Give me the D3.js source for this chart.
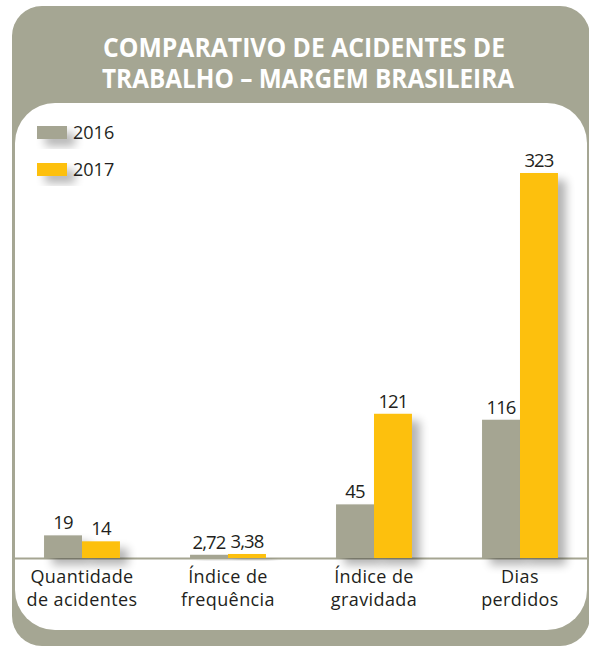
<!DOCTYPE html>
<html lang="pt">
<head>
<meta charset="utf-8">
<title>Comparativo de acidentes de trabalho</title>
<script src="https://d3js.org/d3.v7.min.js"></script>
<style>
    body { margin: 0; background: #ffffff; }
    svg text { font-family: "Open Sans", "Lato", sans-serif; }
    .title { fill: #ffffff; font-weight: 700; font-size: 26px; }
    .val { fill: #231f20; font-size: 18.5px; letter-spacing: -0.9px; }
    .cat { fill: #231f20; font-size: 18px; letter-spacing: 0.4px; }
    .leg { fill: #231f20; font-size: 18px; }
</style>
</head>
<body>
<svg id="chart" width="589" height="646"></svg>
<script>
// categories (two lines each) and the two series
var categories = ["Quantidade de acidentes", "Índice de frequência", "Índice de gravidade", "Dias perdidos"];
var catLines = [["Quantidade", "de acidentes"], ["Índice de", "frequência"], ["Índice de", "gravidada"], ["Dias", "perdidos"]];
var series = ["2016", "2017"];
var values2016 = [19, 2.72, 45, 116];
var values2017 = [14, 3.38, 121, 323];
var labels2016 = ["19", "2,72", "45", "116"];
var labels2017 = ["14", "3,38", "121", "323"];
var titleLines = ["COMPARATIVO DE ACIDENTES DE", "TRABALHO – MARGEM BRASILEIRA"];
var titleWidths = [402, 412];

var colors = {"2016": "#a5a592", "2017": "#fdc010"};

var svg = d3.select("#chart");

// soft shadow down/right
var defs = svg.append("defs");
var f = defs.append("filter").attr("id", "shadow")
    .attr("x", "-50%").attr("y", "-50%").attr("width", "220%").attr("height", "220%");
f.append("feGaussianBlur").attr("in", "SourceAlpha").attr("stdDeviation", 5).attr("result", "b");
f.append("feOffset").attr("in", "b").attr("dx", 8).attr("dy", 7).attr("result", "o");
f.append("feComponentTransfer").attr("in", "o").attr("result", "s")
  .append("feFuncA").attr("type", "linear").attr("slope", 0.3);
var m = f.append("feMerge");
m.append("feMergeNode").attr("in", "s");
m.append("feMergeNode").attr("in", "SourceGraphic");

// outer panel
svg.append("rect")
    .attr("x", 12).attr("y", 6).attr("width", 578).attr("height", 640)
    .attr("rx", 30).attr("fill", "#a5a693");

// title: one text, two lines, squeezed to the narrow face of the original
svg.append("text")
    .attr("class", "title")
    .attr("text-anchor", "middle")
  .selectAll("tspan").data(titleLines).join("tspan")
    .attr("x", function(d, i) { return i ? 308 : 304; })
    .attr("y", function(d, i) { return 57 + i * 31; })
    .attr("textLength", function(d, i) { return titleWidths[i]; })
    .attr("lengthAdjust", "spacingAndGlyphs")
    .text(function(d) { return d; });

// inner white panel
svg.append("rect")
    .attr("x", 15).attr("y", 103).attr("width", 572).attr("height", 527)
    .attr("rx", 40).attr("fill", "#ffffff");

var baseline = 558;
var x0 = d3.scaleBand().domain(categories).range([9, 593]).paddingInner(0.48).paddingOuter(0.24);
var x1 = d3.scaleBand().domain(series).range([0, x0.bandwidth()]);
var y = d3.scaleLinear().domain([0, 323]).range([baseline, 173]);

var data = categories.map(function(c, i) {
    return [
        {cat: c, key: "2016", v: values2016[i], lab: labels2016[i]},
        {cat: c, key: "2017", v: values2017[i], lab: labels2017[i]}
    ];
});

// axis line
svg.append("line")
    .attr("x1", 15).attr("x2", 587)
    .attr("y1", baseline + 0.5).attr("y2", baseline + 0.5)
    .attr("stroke", "#a5a592").attr("stroke-width", 2);

var groups = svg.selectAll("g.grp").data(data).join("g")
    .attr("class", "grp")
    .attr("transform", function(d) { return "translate(" + x0(d[0].cat) + ",0)"; });

groups.selectAll("rect").data(function(d) { return d; }).join("rect")
    .attr("x", function(d) { return x1(d.key); })
    .attr("y", function(d) { return y(d.v); })
    .attr("width", x1.bandwidth())
    .attr("height", function(d) { return baseline - y(d.v); })
    .attr("fill", function(d) { return colors[d.key]; })
    .attr("filter", "url(#shadow)");

groups.selectAll("text.val").data(function(d) { return d; }).join("text")
    .attr("class", "val")
    .attr("x", function(d) { return x1(d.key) + x1.bandwidth() / 2; })
    .attr("y", function(d) { return y(d.v) - 6; })
    .attr("text-anchor", "middle")
    .text(function(d) { return d.lab; });

// category labels: one text per category, two lines
svg.selectAll("text.cat").data(categories).join("text")
    .attr("class", "cat")
    .attr("text-anchor", "middle")
    .each(function(c, i) {
        d3.select(this).selectAll("tspan").data(catLines[i]).join("tspan")
            .attr("x", x0(c) + x0.bandwidth() / 2)
            .attr("y", function(d, j) { return 583 + j * 23; })
            .text(function(d) { return d; });
    });

// legend
var leg = svg.selectAll("g.leg").data(series).join("g")
    .attr("transform", function(d, i) { return "translate(37," + (126 + i * 37) + ")"; });
leg.append("rect").attr("width", 30).attr("height", 13)
    .attr("fill", function(d) { return colors[d]; })
    .attr("filter", "url(#shadow)");
leg.append("text").attr("class", "leg").attr("x", 36).attr("y", 13)
    .text(function(d) { return d; });
</script>
</body>
</html>
